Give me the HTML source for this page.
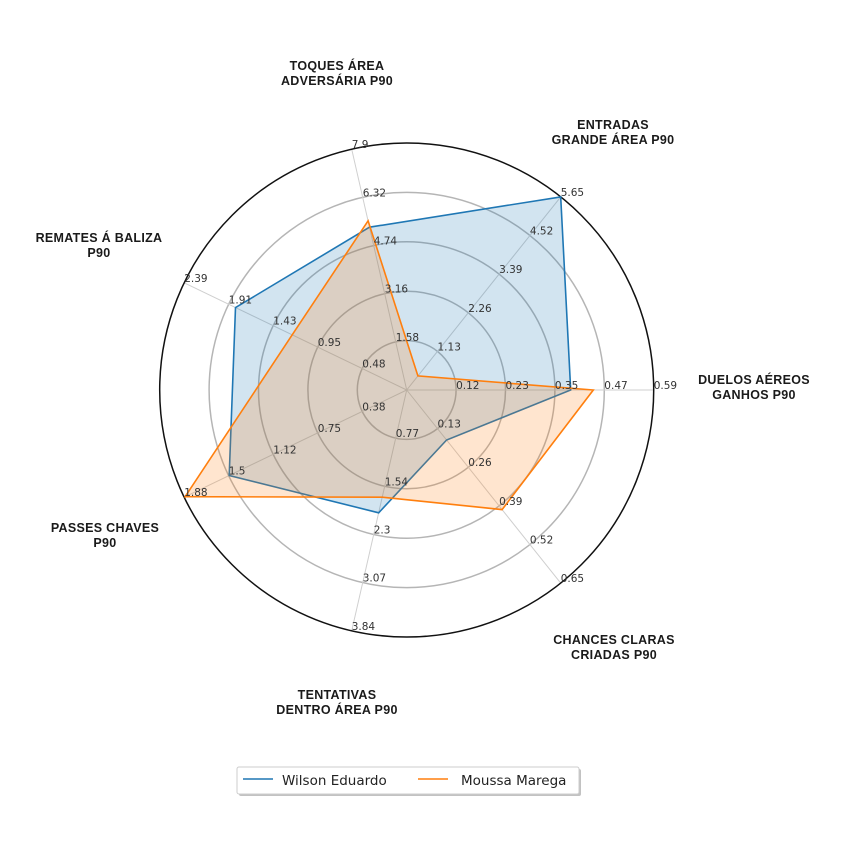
<!DOCTYPE html>
<html><head><meta charset="utf-8"><style>
html,body{margin:0;padding:0;background:#fff;}
svg{display:block;}
.t{font-family:"DejaVu Sans","Liberation Sans",sans-serif;font-size:10.5px;fill:#333;}
.c{font-family:"Liberation Sans","DejaVu Sans",sans-serif;font-size:12.5px;font-weight:bold;fill:#1a1a1a;text-anchor:middle;letter-spacing:0.3px;}
.l{font-family:"DejaVu Sans","Liberation Sans",sans-serif;font-size:13.5px;fill:#222;}
</style></head><body>
<svg width="850" height="850" viewBox="0 0 850 850" xmlns="http://www.w3.org/2000/svg">
<rect width="850" height="850" fill="#fff"/>
<g fill="none" stroke="#b5b5b5" stroke-width="1.5">
<circle cx="406.7" cy="390" r="49.4"/>
<circle cx="406.7" cy="390" r="98.8"/>
<circle cx="406.7" cy="390" r="148.2"/>
<circle cx="406.7" cy="390" r="197.6"/>
</g>
<g stroke="#cfcfcf" stroke-width="1">
<line x1="406.7" y1="390" x2="653.7" y2="390"/>
<line x1="406.7" y1="390" x2="560.7" y2="196.9"/>
<line x1="406.7" y1="390" x2="351.7" y2="149.2"/>
<line x1="406.7" y1="390" x2="184.2" y2="282.8"/>
<line x1="406.7" y1="390" x2="184.2" y2="497.2"/>
<line x1="406.7" y1="390" x2="351.7" y2="630.8"/>
<line x1="406.7" y1="390" x2="560.7" y2="583.1"/>
</g>
<circle cx="406.7" cy="390" r="247" fill="none" stroke="#111" stroke-width="1.5"/>
<polygon points="570.7,390 560.7,196.9 369.5,227.2 235.5,307.6 229.2,475.5 378.7,512.8 446.6,440" fill="#1f77b4" fill-opacity="0.2" stroke="#1f77b4" stroke-width="1.6"/>
<polygon points="593.3,390 417.9,375.9 368.1,220.8 292.2,334.8 185.1,496.7 382.2,497.2 502.1,509.6" fill="#ff7f0e" fill-opacity="0.2" stroke="#ff7f0e" stroke-width="1.6"/>
<g class="t">
<text x="456.1" y="389">0.12</text><text x="505.5" y="389">0.23</text><text x="554.9" y="389">0.35</text><text x="604.3" y="389">0.47</text><text x="653.7" y="389">0.59</text>
<text x="437.5" y="350.4">1.13</text><text x="468.3" y="311.8">2.26</text><text x="499.1" y="273.1">3.39</text><text x="529.9" y="234.5">4.52</text><text x="560.7" y="195.9">5.65</text>
<text x="395.7" y="340.8">1.58</text><text x="384.7" y="292.7">3.16</text><text x="373.7" y="244.5">4.74</text><text x="362.7" y="196.4">6.32</text><text x="351.7" y="148.2">7.9</text>
<text x="362.2" y="367.6">0.48</text><text x="317.7" y="346.1">0.95</text><text x="273.2" y="324.7">1.43</text><text x="228.7" y="303.3">1.91</text><text x="184.2" y="281.8">2.39</text>
<text x="362.2" y="410.4">0.38</text><text x="317.7" y="431.9">0.75</text><text x="273.2" y="453.3">1.12</text><text x="228.7" y="474.7">1.5</text><text x="184.2" y="496.2">1.88</text>
<text x="395.7" y="437.2">0.77</text><text x="384.7" y="485.3">1.54</text><text x="373.7" y="533.5">2.3</text><text x="362.7" y="581.6">3.07</text><text x="351.7" y="629.8">3.84</text>
<text x="437.5" y="427.6">0.13</text><text x="468.3" y="466.2">0.26</text><text x="499.1" y="504.9">0.39</text><text x="529.9" y="543.5">0.52</text><text x="560.7" y="582.1">0.65</text>
</g>
<g class="c">
<text x="337" y="70">TOQUES ÁREA</text><text x="337" y="85">ADVERSÁRIA P90</text>
<text x="613" y="129">ENTRADAS</text><text x="613" y="144">GRANDE ÁREA P90</text>
<text x="754" y="384">DUELOS AÉREOS</text><text x="754" y="399">GANHOS P90</text>
<text x="614" y="644">CHANCES CLARAS</text><text x="614" y="659">CRIADAS P90</text>
<text x="337" y="699">TENTATIVAS</text><text x="337" y="714">DENTRO ÁREA P90</text>
<text x="105" y="532">PASSES CHAVES</text><text x="105" y="547">P90</text>
<text x="99" y="242">REMATES Á BALIZA</text><text x="99" y="257">P90</text>
</g>
<rect x="239" y="769" width="342" height="27" rx="2" fill="#999" fill-opacity="0.6"/>
<rect x="237" y="767" width="342" height="27" rx="2" fill="#fff" stroke="#ccc" stroke-width="1"/>
<line x1="243" y1="779" x2="273" y2="779" stroke="#1f77b4" stroke-width="1.6"/>
<text class="l" x="282" y="785">Wilson Eduardo</text>
<line x1="418" y1="779" x2="448" y2="779" stroke="#ff7f0e" stroke-width="1.6"/>
<text class="l" x="461" y="785">Moussa Marega</text>
</svg>
</body></html>
